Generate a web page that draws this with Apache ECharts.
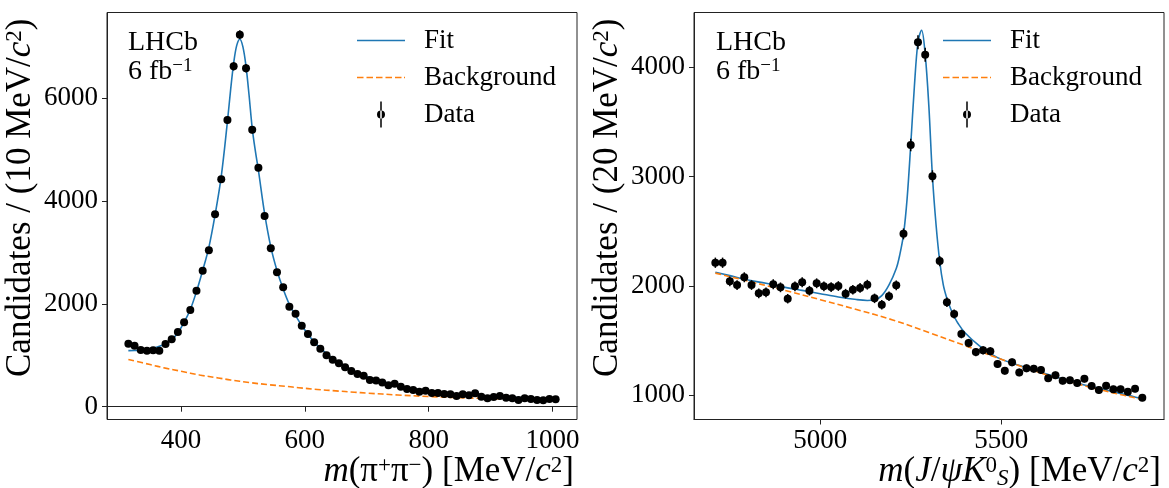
<!DOCTYPE html>
<html>
<head>
<meta charset="utf-8">
<script src="https://cdn.jsdelivr.net/npm/echarts@6/dist/echarts.min.js"></script>
<style>html,body{margin:0;padding:0;background:#fff}#c{width:1169px;height:488px}</style>
</head>
<body>
<div id="c"></div>
<script>
// ---------- Left panel: m(pi+ pi-) ----------
const leftDataX = [315,325,335,345,355,365,375,385,395,405,415,425,435,445,455,465,475,485,495,505,515,525,535,545,555,565,575,585,595,605,615,625,635,645,655,665,675,685,695,705,715,725,735,745,755,765,775,785,795,805,815,825,835,845,855,865,875,885,895,905,915,925,935,945,955,965,975,985,995,1005];
const leftDataY = [1226,1187,1103,1090,1097,1090,1220,1311,1453,1642,1881,2257,2646,3043,3743,4424,5578,6622,7237,6584,5389,4650,3710,3082,2615,2323,1946,1809,1576,1414,1253,1128,1000,914,844,767,695,634,600,519,510,470,416,447,386,344,325,292,311,266,266,247,241,208,241,222,261,195,163,189,208,175,163,130,163,150,130,125,150,144];
const leftFitX = [315,325,335,345,355,365,375,385,395,405,415,425,435,445,455,465,475,480,485,490,495,500,505,510,515,520,525,535,545,555,565,575,585,595,605,615,625,635,645,655,665,675,685,695,705,715,725,735,745,755,765,785,805,825,845,865,885,905,925,945,965,985,1005];
const leftFitY = [1090,1092,1100,1115,1140,1175,1225,1305,1440,1640,1890,2240,2650,3100,3730,4480,5550,6150,6680,7030,7150,7000,6620,6050,5420,4980,4600,3760,3110,2650,2290,1990,1770,1580,1410,1260,1140,1035,940,860,785,720,665,615,565,525,490,455,425,395,370,330,297,270,248,230,214,200,188,178,169,161,154];
const leftBkgX = [315,350,375,400,430,460,480,510,540,570,590,620,650,680,700,750,800,850,900,950,1005];
const leftBkgY = [920,820,750,690,617,560,520,470,430,395,370,336,308,282,265,228,198,175,158,145,135];

// ---------- Right panel: m(J/psi K0S) ----------
const rightDataX = [4710,4730,4750,4770,4790,4810,4830,4850,4870,4890,4910,4930,4950,4970,4990,5010,5030,5050,5070,5090,5110,5130,5150,5170,5190,5210,5230,5250,5270,5290,5310,5330,5350,5370,5390,5410,5430,5450,5470,5490,5510,5530,5550,5570,5590,5610,5630,5650,5670,5690,5710,5730,5750,5770,5790,5810,5830,5850,5870,5890];
const rightDataY = [2213,2213,2043,2009,2080,2009,1933,1942,2016,1988,1884,1997,2034,1957,2025,1997,1991,2000,1930,1966,1982,2012,1887,1829,1906,2006,2477,3290,4230,4116,3004,2228,1851,1744,1561,1478,1396,1412,1403,1286,1225,1302,1210,1247,1243,1231,1156,1183,1134,1137,1113,1152,1085,1048,1088,1055,1055,1033,1060,978];
const rightFitX = [4710,4750,4800,4850,4900,4950,5000,5050,5100,5130,5150,5170,5190,5210,5220,5230,5240,5250,5260,5270,5280,5290,5300,5310,5320,5330,5340,5350,5360,5370,5380,5400,5440,5490,5540,5580,5630,5680,5730,5770,5820,5860,5890];
const rightFitY = [2125,2095,2055,2025,1990,1960,1930,1900,1876,1868,1872,1912,2010,2160,2290,2470,2800,3290,3820,4230,4340,4116,3650,3004,2560,2229,2010,1885,1795,1722,1662,1572,1452,1345,1285,1242,1190,1140,1095,1065,1025,993,968];
const rightBkgX = [4710,4800,4900,5000,5100,5200,5300,5400,5500,5600,5700,5800,5890];
const rightBkgY = [2118,2045,1962,1875,1785,1690,1575,1455,1330,1215,1115,1030,963];

// ---------- Axes ticks ----------
const leftXTicks = [400,600,800,1000];
const leftYTicks = [0,2000,4000,6000];
const rightXTicks = [5000,5500];
const rightYTicks = [1000,2000,3000,4000];

// ---------- Titles ----------
const leftXTitle = '{i|m}{r|(π}{sup|+}{r|π}{sup|−}{r|) [MeV/}{i|c}{sup|2}{r|]}';
const rightXTitle = '{i|m}{r|(}{i|J}{r|/}{i|ψK}{sup|0}{sub|S}{r|) [MeV/}{i|c}{sup|2}{r|]}';
const leftYTitle = '{r|Candidates / (10 MeV/}{i|c}{sup|2}{r|)}';
const rightYTitle = '{r|Candidates / (20 MeV/}{i|c}{sup|2}{r|)}';

const FONT = 'Liberation Serif';
const FS = 27;      // tick labels, legend, LHCb
const TFS = 35;     // axis titles
const TLH = 36;     // axis title line height
const BLUE = '#1f77b4', ORANGE = '#ff7f0e';
const zip = (a, b) => a.map((v, i) => [v, b[i]]);

const richTitle = {
  r: {fontFamily: FONT, fontSize: TFS, lineHeight: TLH, color: '#000'},
  i: {fontFamily: FONT, fontStyle: 'italic', fontSize: TFS, lineHeight: TLH, color: '#000'},
  sup: {fontFamily: FONT, fontSize: 23, lineHeight: 19, verticalAlign: 'top', color: '#000'},
  sub: {fontFamily: FONT, fontSize: 23, fontStyle: 'italic', lineHeight: 16, verticalAlign: 'bottom', color: '#000'}
};

function errRender(params, api) {
  const x = api.value(0), y = api.value(1);
  const e = Math.sqrt(y);
  const p = api.coord([x, y]);
  const top = api.coord([x, y + e]);
  const bot = api.coord([x, y - e]);
  return {type: 'group', children: [
    {type: 'line', shape: {x1: p[0], y1: top[1], x2: p[0], y2: bot[1]}, style: {stroke: '#000', lineWidth: 1.5}},
    {type: 'circle', shape: {cx: p[0], cy: p[1], r: 4}, style: {fill: '#000'}}
  ]};
}

function xAxisCfg(idx, min, max, ticks) {
  return {
    type: 'value', gridIndex: idx, min: min, max: max,
    axisLine: {show: true, lineStyle: {color: '#222', width: 1}},
    axisTick: {show: true, length: 5, lineStyle: {color: '#222'}, customValues: ticks},
    axisLabel: {customValues: ticks, formatter: v => String(v), fontFamily: FONT, fontSize: FS, color: '#000', margin: 8},
    splitLine: {show: false}
  };
}
function yAxisCfg(idx, min, max, ticks, name) {
  return {
    type: 'value', gridIndex: idx, min: min, max: max,
    axisLine: {show: true, lineStyle: {color: '#222', width: 1}},
    axisTick: {show: true, length: 5, lineStyle: {color: '#222'}, customValues: ticks},
    axisLabel: {customValues: ticks, formatter: v => String(v), fontFamily: FONT, fontSize: FS, color: '#000', margin: 9},
    splitLine: {show: false},
    name: name, nameLocation: 'end', nameGap: 0, nameRotate: 90, nameMoveOverlap: false,
    nameTextStyle: {fontFamily: FONT, fontSize: TFS, lineHeight: TLH, color: '#000', align: 'right', verticalAlign: 'bottom', padding: [0, 6, 68, 0], rich: richTitle}
  };
}

const fitIcon = 'path://M0,0 L48,0 L48,1.6 L0,1.6 Z';
const bkgIcon = 'path://M0,0 L6.5,0 L6.5,1.6 L0,1.6 Z M9.5,0 L16,0 L16,1.6 L9.5,1.6 Z M19,0 L25.5,0 L25.5,1.6 L19,1.6 Z M28.5,0 L35,0 L35,1.6 L28.5,1.6 Z M38,0 L44.5,0 L44.5,1.6 L38,1.6 Z M47,0 L48,0 L48,1.6 L47,1.6 Z';
const dataIcon = 'path://M3.25,0 L4.75,0 L4.75,26 L3.25,26 Z M0,13 A4,4 0 1,0 8,13 A4,4 0 1,0 0,13 Z';
function legendCfg(left) {
  return {
    left: left, top: 22, orient: 'vertical', itemWidth: 48, itemHeight: 26, itemGap: 10,
    selectedMode: false,
    textStyle: {fontFamily: FONT, fontSize: FS, color: '#000', lineHeight: 26, padding: [0, 0, 0, 14]},
    data: [
      {name: 'Fit', icon: fitIcon, itemStyle: {color: BLUE}},
      {name: 'Background', icon: bkgIcon, itemStyle: {color: ORANGE}},
      {name: 'Data', icon: dataIcon, itemStyle: {color: '#000'}}
    ]
  };
}

const lhcbText = {
  text: 'LHCb\n6 fb{sup|−1}',
  rich: {sup: {fontFamily: FONT, fontSize: 19, lineHeight: 16, verticalAlign: 'top', color: '#000'}},
  font: '28px "' + FONT + '"', lineHeight: 29, fill: '#000'
};
function xTitle(x, text) {
  return {type: 'text', x: x, y: 454, style: {text: text, rich: richTitle, font: TFS + 'px "' + FONT + '"', lineHeight: TLH, align: 'right', verticalAlign: 'top', fill: '#000'}};
}

const chart = echarts.init(document.getElementById('c'), null, {renderer: 'canvas'});
chart.setOption({
  animation: false,
  backgroundColor: '#fff',
  grid: [
    {left: 107, top: 12.5, width: 470, height: 407, outerBoundsMode: 'none', containLabel: false, show: true, borderColor: '#222', borderWidth: 1, backgroundColor: 'transparent'},
    {left: 694, top: 12.5, width: 470, height: 407, outerBoundsMode: 'none', containLabel: false, show: true, borderColor: '#222', borderWidth: 1, backgroundColor: 'transparent'}
  ],
  xAxis: [
    xAxisCfg(0, 280.5, 1039.5, leftXTicks),
    xAxisCfg(1, 4651, 5950, rightXTicks)
  ],
  yAxis: [
    yAxisCfg(0, -249, 7669, leftYTicks, leftYTitle),
    yAxisCfg(1, 779, 4502, rightYTicks, rightYTitle)
  ],
  legend: [legendCfg(352), legendCfg(938)],
  graphic: [
    {type: 'text', left: 128, top: 28, style: lhcbText},
    {type: 'text', left: 716, top: 28, style: lhcbText},
    xTitle(574, leftXTitle),
    xTitle(1161, rightXTitle)
  ],
  series: [
    {name: 'Fit', type: 'line', xAxisIndex: 0, yAxisIndex: 0, data: zip(leftFitX, leftFitY), smooth: 0.35, symbol: 'none', lineStyle: {color: BLUE, width: 1.6}, itemStyle: {color: BLUE}, z: 2},
    {name: 'Background', type: 'line', xAxisIndex: 0, yAxisIndex: 0, data: zip(leftBkgX, leftBkgY), smooth: 0.35, symbol: 'none', lineStyle: {color: ORANGE, width: 1.6, type: [6, 3]}, itemStyle: {color: ORANGE}, z: 2},
    {name: 'Data', type: 'custom', xAxisIndex: 0, yAxisIndex: 0, data: zip(leftDataX, leftDataY), renderItem: errRender, encode: {x: 0, y: 1}, itemStyle: {color: '#000'}, z: 3},
    {name: 'Fit', type: 'line', xAxisIndex: 1, yAxisIndex: 1, data: zip(rightFitX, rightFitY), smooth: 0.35, symbol: 'none', lineStyle: {color: BLUE, width: 1.6}, itemStyle: {color: BLUE}, z: 2},
    {name: 'Background', type: 'line', xAxisIndex: 1, yAxisIndex: 1, data: zip(rightBkgX, rightBkgY), smooth: 0.35, symbol: 'none', lineStyle: {color: ORANGE, width: 1.6, type: [6, 3]}, itemStyle: {color: ORANGE}, z: 2},
    {name: 'Data', type: 'custom', xAxisIndex: 1, yAxisIndex: 1, data: zip(rightDataX, rightDataY), renderItem: errRender, encode: {x: 0, y: 1}, itemStyle: {color: '#000'}, z: 3}
  ]
});
</script>
</body>
</html>
